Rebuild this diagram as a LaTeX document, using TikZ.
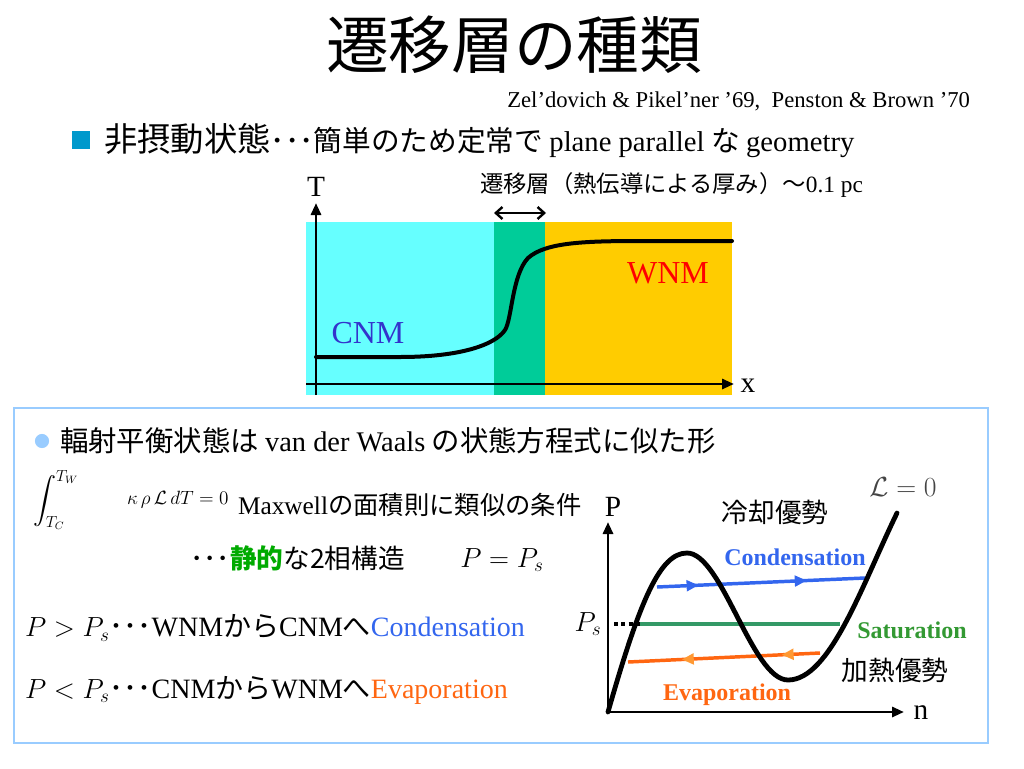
\documentclass[tikz,border=0pt]{standalone}
\usepackage{exscale}
\usepackage{fontspec}
\setmainfont{Liberation Serif}
\newfontfamily\jp{Noto Sans CJK JP}
\usetikzlibrary{arrows.meta,decorations.markings}
\definecolor{cyanbg}{HTML}{66FFFF}
\definecolor{greenbg}{HTML}{00CC99}
\definecolor{orangebg}{HTML}{FFCC00}
\definecolor{boxblue}{HTML}{99CCFF}
\definecolor{sqblue}{HTML}{0099CC}
\definecolor{cnmblue}{HTML}{3333CC}
\definecolor{condblue}{HTML}{3366EE}
\definecolor{evaporange}{HTML}{FF6611}
\definecolor{evaparrow}{HTML}{FF9933}
\definecolor{satgreen}{HTML}{339966}
\definecolor{sattext}{HTML}{339933}
\definecolor{statgreen}{HTML}{00AA00}
\definecolor{lgray}{HTML}{444444}
\newcommand{\fs}[1]{\fontsize{#1}{#1}\selectfont}
\begin{document}
\begin{tikzpicture}[x=0.75pt,y=-0.75pt,
  every node/.style={inner sep=0pt,outer sep=0pt},
  axisarrow/.style={line width=2.2pt,-{Triangle[length=9pt,width=7.5pt]}},
  thickcurve/.style={line width=3pt,line cap=round},
  flowline/.style={line width=2.6pt},
  midarrows/.style={postaction=decorate,decoration={markings,
     mark=at position 0.2 with {\arrow[#1]{Triangle[length=9pt,width=8pt]}},
     mark=at position 0.72 with {\arrow[#1]{Triangle[length=9pt,width=8pt]}}}}
]
\useasboundingbox (0,0) rectangle (1024,768);

% title and header
\node (title) at (514,45) {\jp\fs{47}遷移層の種類};
\node[anchor=east] (ref) at (970,101) {\fs{17}Zel’dovich \& Pikel’ner ’69,\ \ Penston \& Brown ’70};
\node[fill=sqblue,minimum size=13.5pt] (sq) at (81,140) {};
\node[anchor=west] (l1) at (104,141) {\jp\fs{25}非摂動状態\fs{21.5}･･･簡単のため定常で {\rmfamily plane parallel} な {\rmfamily geometry}};

% top diagram
\fill[cyanbg] (306,222) rectangle (494,395);
\fill[greenbg] (494,222) rectangle (545,395);
\fill[orangebg] (545,222) rectangle (732,395);
\coordinate (tO) at (316,395);
\coordinate (tTop) at (316,203);
\coordinate (xL) at (306,384);
\coordinate (xR) at (734,384);
\draw[axisarrow] (tO) -- (tTop);
\draw[axisarrow] (xL) -- (xR);
\node (Tlab) at (316,187) {\fs{22}T};
\node (xlab) at (748,386) {\fs{22}x};
\coordinate (dl) at (494,213);
\coordinate (dr) at (546,213);
\draw[line width=1.8pt,{Straight Barb[length=5pt,width=9pt]}-{Straight Barb[length=5pt,width=9pt]}] (dl) -- (dr);
\node[anchor=west] (tlab) at (480,185) {\jp\fs{17.5}遷移層（熱伝導による厚み）～{\rmfamily 0.1 pc}};
\node[text=cnmblue] (cnm) at (368,333) {\fs{24}CNM};
\node[text=red] (wnm) at (668,273) {\fs{24}WNM};
\draw[thickcurve] (316,357) -- (400,357) .. controls (460,357) and (495,345) .. (505,330)
  .. controls (512,319) and (512,275) .. (528,258)
  .. controls (545,243) and (580,241) .. (640,241) -- (732,241);

% lower box
\draw[boxblue,line width=2.2pt] (14,408) rectangle (988,743);
\fill[boxblue] (42,441) circle (5.3pt);
\node[anchor=west] (l2) at (60,441) {\jp\fs{21.3}輻射平衡状態は {\rmfamily van der Waals} の状態方程式に似た形};
\node[anchor=west] (integ) at (33,500) {\fs{17}$\displaystyle\int_{T_C}^{T_W}$};
\node[anchor=west] (integrand) at (127,500) {\fs{14}$\kappa\,\rho\,\mathcal{L}\,dT=0$};
\node[anchor=west] (maxw) at (238,505) {\jp\fs{19}{\rmfamily Maxwell}の面積則に類似の条件};
\node[anchor=west] (stat) at (190,558) {\jp\fs{20}･･･{\bfseries\color{statgreen}静的}な2相構造};
\node (pps) at (502,560) {\fs{22}$P=P_s$};
\node[anchor=west] (gt) at (25,628) {\fs{21}$P>P_s${\jp･･･}WNM{\jp から}CNM{\jp へ}\textcolor{condblue}{Condensation}};
\node[anchor=west] (lt) at (25,690) {\fs{21}$P<P_s${\jp･･･}CNM{\jp から}WNM{\jp へ}\textcolor{evaporange}{Evaporation}};

% P-n diagram
\coordinate (pO) at (608,712);
\coordinate (pTop) at (608,522);
\coordinate (nR) at (904,712);
\coordinate (cL) at (657,587);
\coordinate (cR) at (865,578);
\coordinate (sL) at (640,624);
\coordinate (sR) at (840,624);
\coordinate (dL) at (614,624);
\coordinate (eL) at (628,662);
\coordinate (eR) at (820,653);
\draw[condblue,flowline,midarrows=condblue] (cL) -- (cR);
\draw[satgreen,flowline] (sL) -- (sR);
\draw[line width=2.6pt,dash pattern=on 3pt off 2.5pt] (dL) -- (sL);
\draw[evaporange,flowline,midarrows=evaparrow] (eR) -- (eL);
\draw[thickcurve,line width=3.6pt] (pO) .. controls (640,600) and (660,553) .. (687,553)
  .. controls (722,553) and (752,680) .. (788,680)
  .. controls (830,680) and (862,585) .. (897,513);
\draw[axisarrow] (pO) -- (pTop);
\draw[axisarrow] (pO) -- (nR);
\node (Plab) at (613,507) {\fs{22}P};
\node (nlab) at (921,713) {\fs{22}n};
\node[text=lgray] (Lz) at (903,487) {\fs{20}$\mathcal{L}=0$};
\node (cool) at (775,512) {\jp\fs{20}冷却優勢};
\node (heat) at (895,670) {\jp\fs{20}加熱優勢};
\node (Ps) at (588,624) {\fs{22}$P_s$};
\node[text=condblue] (condlab) at (795,557) {\fs{18}\bfseries Condensation};
\node[text=sattext] (satlab) at (912,630) {\fs{18}\bfseries Saturation};
\node[text=evaporange] (evaplab) at (727,695) {\fs{18}\bfseries Evaporation};
\end{tikzpicture}
\end{document}
